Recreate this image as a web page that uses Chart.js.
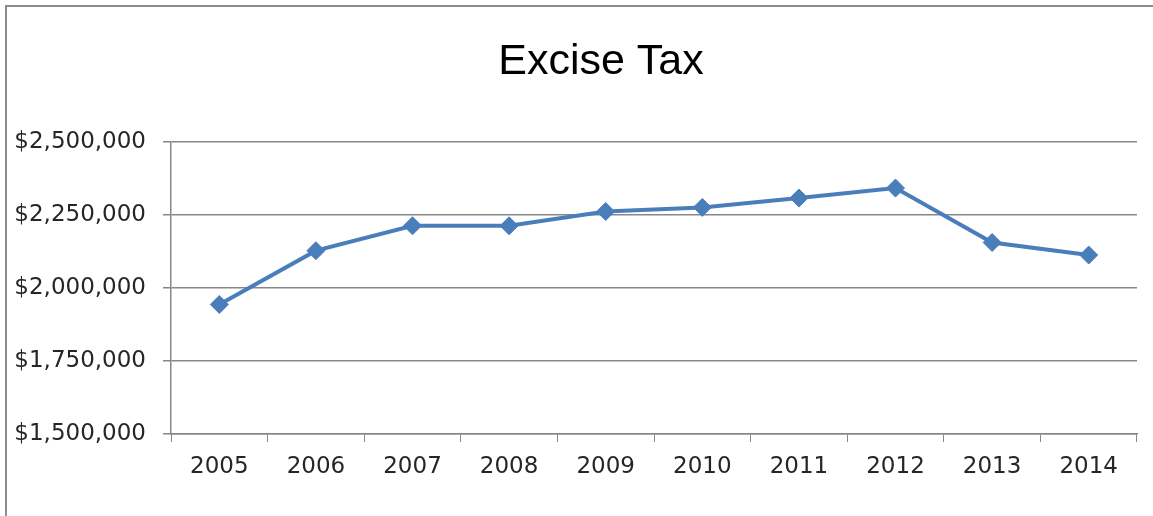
<!DOCTYPE html>
<html>
<head>
<meta charset="utf-8">
<title>Excise Tax</title>
<script src="https://cdn.jsdelivr.net/npm/chart.js@4/dist/chart.umd.min.js"></script>
<style>
  html, body { margin: 0; padding: 0; background: #fff; }
  #wrap { position: relative; width: 1153px; height: 516px; overflow: hidden; }
  #frame {
    position: absolute; left: 5px; top: 5px; right: -10px; bottom: -10px;
    border-left: 2px solid #8c8c8c; border-top: 2px solid #8c8c8c;
    pointer-events: none;
  }
  canvas { position: absolute; left: 0; top: 0; }
</style>
</head>
<body>
<div id="wrap">
  <canvas id="chart" width="1153" height="516"></canvas>
  <div id="frame"></div>
</div>
<script>
// values
const years = ['2005', '2006', '2007', '2008', '2009', '2010', '2011', '2012', '2013', '2014'];
const exciseTax = [1943000, 2127000, 2212000, 2212000, 2261000, 2275000, 2307000, 2341000, 2155000, 2112000];
const yTicks = [1500000, 1750000, 2000000, 2250000, 2500000];

const blue = '#4a7ebb';
const gridGray = '#878787';
const labelFont = { family: "'DejaVu Sans', sans-serif", size: 23 };

const money = v => '$' + v.toLocaleString('en-US');

// the reference title sits a bit right of the canvas centre
const shiftTitle = {
  id: 'shiftTitle',
  afterLayout(chart) {
    const tb = chart.titleBlock;
    if (!tb) return;
    tb.left = 65;
    tb.right = chart.width - 16;
    tb.width = tb.right - tb.left;
  },
};

new Chart(document.getElementById('chart'), {
  type: 'line',
  data: {
    labels: years,
    datasets: [{
      label: 'Excise Tax',
      data: exciseTax,
      borderColor: blue,
      backgroundColor: blue,
      borderWidth: 4,
      pointStyle: 'rectRot',
      pointRadius: 9,
      pointBorderWidth: 1,
      pointBackgroundColor: blue,
      pointBorderColor: blue,
      tension: 0,
      fill: false,
    }],
  },
  options: {
    responsive: false,
    animation: false,
    layout: { padding: { left: 0, right: 16, top: 0, bottom: 0 } },
    plugins: {
      legend: { display: false },
      tooltip: { enabled: false },
      title: {
        display: true,
        text: 'Excise Tax',
        color: '#000',
        font: { family: "'Liberation Sans', Arial, sans-serif", size: 43, weight: 'normal', lineHeight: 1.2 },
        padding: { top: 36, bottom: 54 },
      },
    },
    scales: {
      x: {
        offset: true,
        grid: {
          offset: true,
          drawOnChartArea: false,
          drawTicks: true,
          tickLength: 8,
          color: gridGray,
        },
        border: { color: gridGray, width: 1.5 },
        ticks: { color: '#262626', font: labelFont, padding: 11, maxRotation: 0 },
        afterFit: scale => { scale.height = 82; },
      },
      y: {
        min: 1500000,
        max: 2500000,
        afterBuildTicks: scale => { scale.ticks = yTicks.map(v => ({ value: v })); },
        grid: { color: gridGray, lineWidth: 1.5, tickLength: 8 },
        border: { color: gridGray, width: 1.5 },
        ticks: { color: '#262626', font: labelFont, padding: 17, callback: v => money(v) },
        afterFit: scale => { scale.width = 171; },
      },
    },
  },
  plugins: [shiftTitle],
});
</script>
</body>
</html>
